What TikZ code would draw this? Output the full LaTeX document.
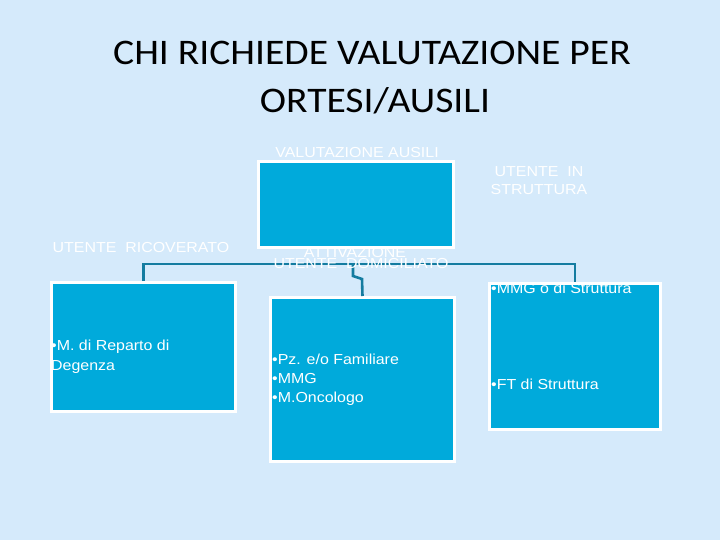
\documentclass[tikz,border=0pt]{standalone}
\usepackage{fontspec}
\setmainfont[FakeStretch=1.1]{Liberation Sans}
\newfontfamily\titlefont[FakeStretch=1.1]{Carlito}
\definecolor{slidebg}{RGB}{213,234,251}
\definecolor{boxfill}{RGB}{0,170,219}
\definecolor{linkcol}{RGB}{20,124,160}
\begin{document}
\begin{tikzpicture}[x=1pt,y=-1pt,
    box/.style={draw=white,line width=3pt,fill=boxfill,anchor=north west,inner sep=0pt},
    lbl/.style={text=white,font=\fontsize{14.5}{19.5}\selectfont,inner sep=0pt},
    link/.style={draw=linkcol,line width=2.6pt}]
  \fill[slidebg] (0,0) rectangle (720,540);
  \useasboundingbox (0,0) rectangle (720,540);
  \node[font=\titlefont\fontsize{36}{48}\selectfont,text=black,anchor=base] (title1) at (372,65) {CHI RICHIEDE VALUTAZIONE PER};
  \node[font=\titlefont\fontsize{36}{48}\selectfont,text=black,anchor=base] (title2) at (375,113) {ORTESI/AUSILI};
  % boxes
  \foreach \n/\x/\y/\w/\h in {valut/257/160/195/86, ricov/50/281/184/129, domic/269/296/184/164, strutt/488/282/171/146}
    \node[box,minimum width=\w pt,minimum height=\h pt] (\n) at (\x,\y) {};
  % connectors
  \coordinate (hub) at (353,264);
  \coordinate (kink1) at (353,276);
  \coordinate (kink2) at (362,279);
  \draw[link] (ricov.north) |- (hub) -| (strutt.north);
  \draw[link] (hub) -- (kink1) -- (kink2) -- (domic.north);
  % labels
  \node[lbl,anchor=base] (lvalut) at (357,158) {VALUTAZIONE AUSILI};
  \node[lbl,anchor=base] (lricov) at (141,252) {UTENTE\ \ RICOVERATO};
  \node[lbl,anchor=base] (latt) at (355,258) {ATTIVAZIONE};
  \node[lbl,anchor=base] (ldomic) at (361,268) {UTENTE\ \ DOMICILIATO};
  \node[lbl,anchor=base] (lin) at (539,177) {UTENTE\ \ IN};
  \node[lbl,anchor=base] (lstrutt) at (539,195) {STRUTTURA};
  \node[lbl,anchor=base west] (tricov1) at (51,350) {•M. di Reparto di};
  \node[lbl,anchor=base west] (tricov2) at (51,370) {Degenza};
  \node[lbl,anchor=base west] (tdomic1) at (272,364) {•Pz. e/o Familiare};
  \node[lbl,anchor=base west] (tdomic2) at (272,383) {•MMG};
  \node[lbl,anchor=base west] (tdomic3) at (272,402) {•M.Oncologo};
  \node[lbl,anchor=base west] (tstrutt1) at (491,293) {•MMG o di Struttura};
  \node[lbl,anchor=base west] (tstrutt2) at (491,389) {•FT di Struttura};
\end{tikzpicture}
\end{document}
